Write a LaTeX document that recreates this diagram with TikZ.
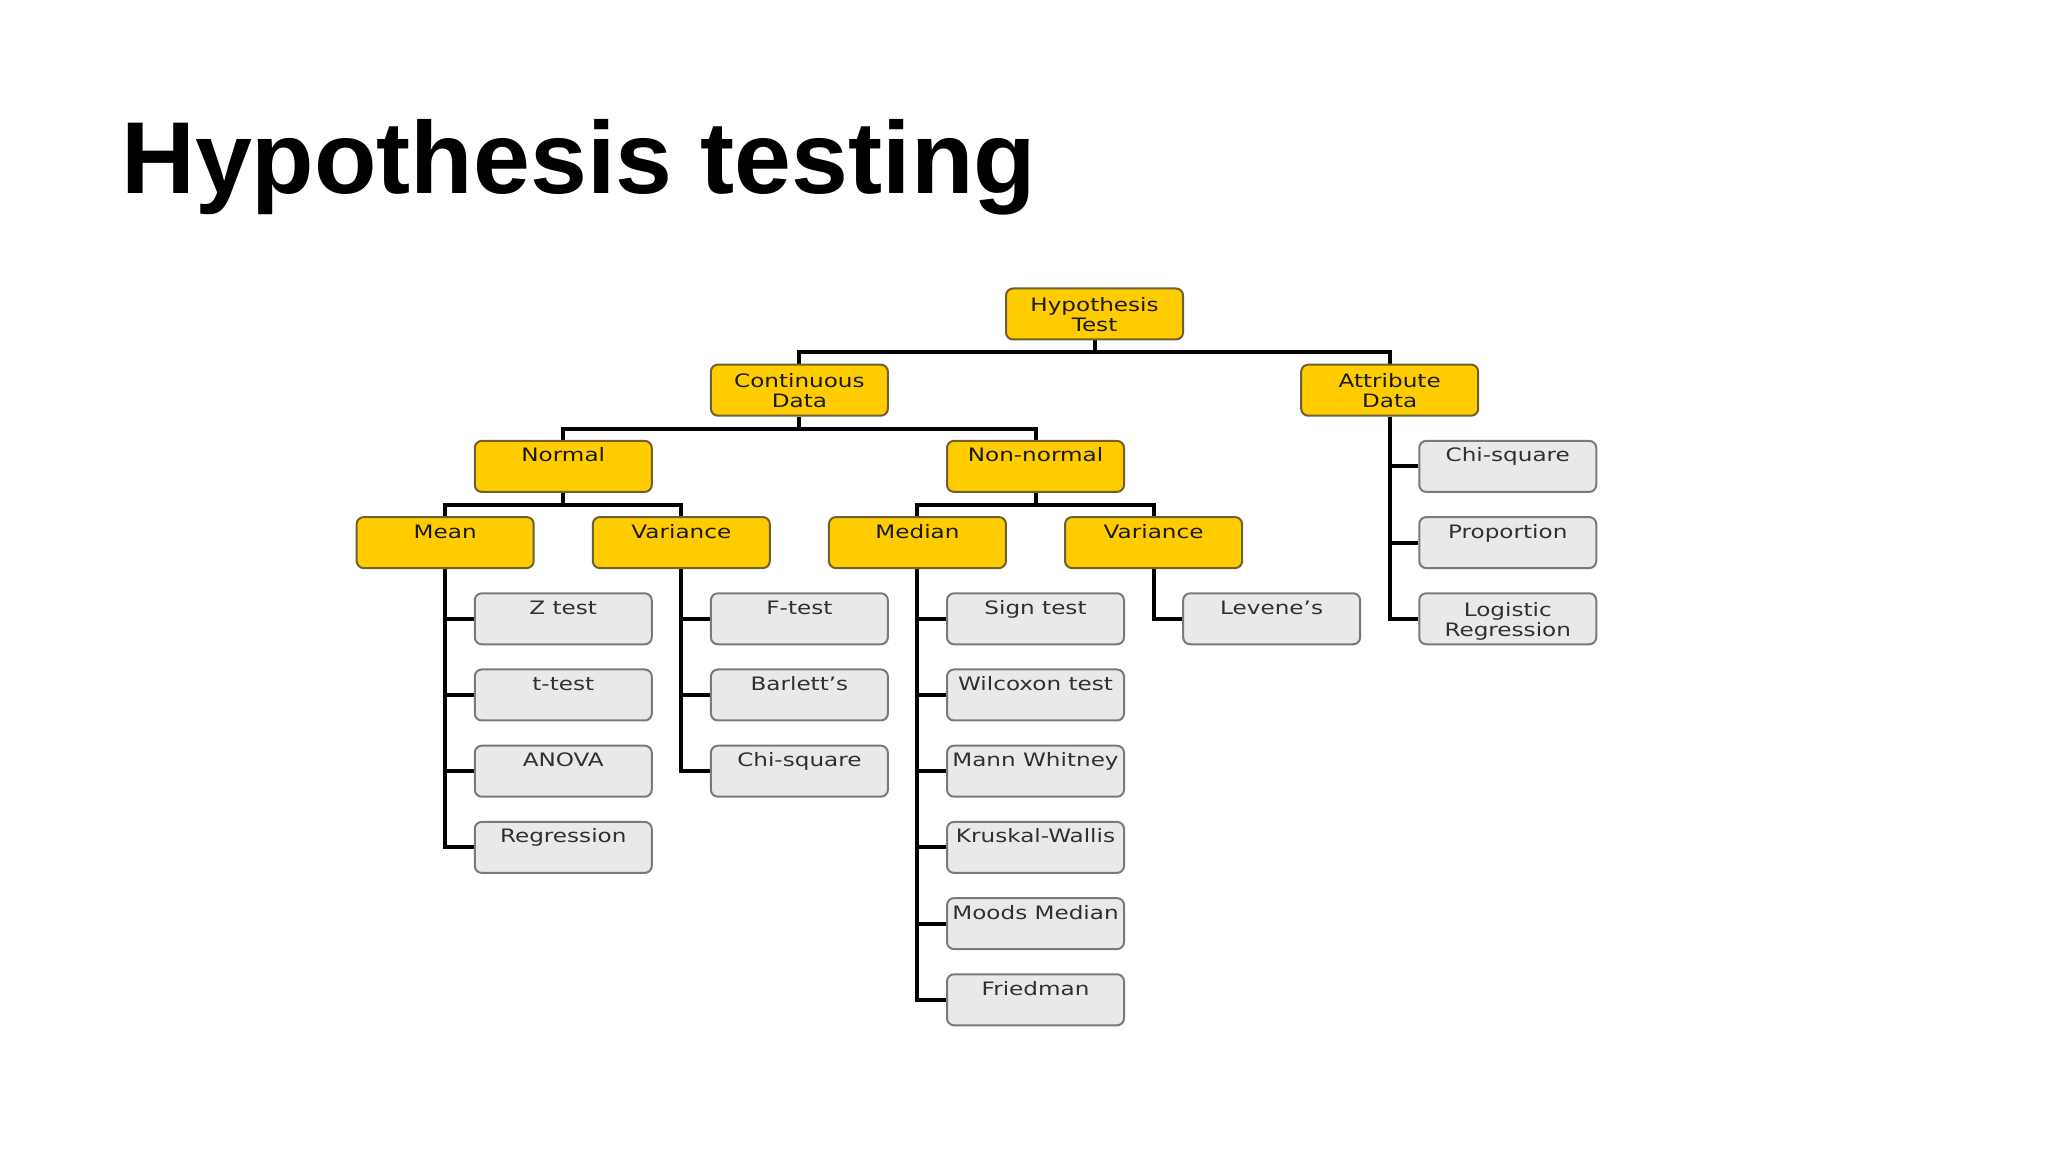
\documentclass[tikz,border=0pt]{standalone}
\usepackage{fontspec}
\newfontfamily\titlefont{Liberation Sans}
\newfontfamily\boxfont[FakeStretch=1.25]{DejaVu Sans}
\usetikzlibrary{calc}
\definecolor{gold}{HTML}{FFCC00}
\definecolor{goldedge}{HTML}{6E6030}
\definecolor{leaffill}{HTML}{E9E9EB}
\definecolor{leafedge}{HTML}{7A7A7A}
\definecolor{ink}{HTML}{1A1A10}
\definecolor{leafink}{HTML}{303030}
\pgfdeclarelayer{bg}
\pgfsetlayers{bg,main}
\tikzset{
  box/.style={rounded corners=0.7mm, line width=0.2mm, minimum width=17.7mm, minimum height=5.1mm, inner sep=0pt},
  Ybx/.style={box, fill=gold, draw=goldedge},
  Gbx/.style={box, fill=leaffill, draw=leafedge},
  lab/.style={font=\boxfont\fontsize{5.26pt}{5.69pt}\selectfont, inner sep=0pt},
  Ylab/.style={lab, text=ink},
  Glab/.style={lab, text=leafink},
  wire/.style={line width=0.4mm, draw=black},
  titletext/.style={anchor=base west, inner sep=0pt, font=\titlefont\bfseries\fontsize{29.1pt}{35pt}\selectfont},
}
% name, kind (Y/G), column, row, text
\newcommand\mkbox[5]{%
  \node[#2bx] (#1) at ({356.7+118.06*(#3)+88.5},{288.5+76.2*(#4)+25.5}) {};
  \node[#2lab, anchor=base] (#1-t) at ($(#1.north)+(0,22)$) {#5};}
\newcommand\mkboxii[5]{%
  \node[#2bx] (#1) at ({356.7+118.06*(#3)+88.5},{288.5+76.2*(#4)+25.5}) {};
  \node[#2lab, anchor=north, align=center] (#1-t) at ($(#1.north)+(0,9)$) {#5};}
\begin{document}
\begin{tikzpicture}[x=0.1mm, y=-0.1mm]
\begin{pgfonlayer}{bg}
\fill[white] (0,0) rectangle (2048,1152);
\end{pgfonlayer}
\useasboundingbox (0,0) rectangle (2048,1152);

\node[titletext] (title) at (120.5,194) {Hypothesis testing};

% category boxes
\mkboxii{hyp}{Y}{5.5}{0}{Hypothesis\\Test}
\mkboxii{cont}{Y}{3}{1}{Continuous\\Data}
\mkboxii{attr}{Y}{8}{1}{Attribute\\Data}
\mkbox{norm}{Y}{1}{2}{Normal}
\mkbox{nonn}{Y}{5}{2}{Non-normal}
\mkbox{mean}{Y}{0}{3}{Mean}
\mkbox{varA}{Y}{2}{3}{Variance}
\mkbox{med}{Y}{4}{3}{Median}
\mkbox{varB}{Y}{6}{3}{Variance}

% test boxes
\mkbox{z}{G}{1}{4}{Z test}
\mkbox{tt}{G}{1}{5}{t-test}
\mkbox{anova}{G}{1}{6}{ANOVA}
\mkbox{reg}{G}{1}{7}{Regression}
\mkbox{ft}{G}{3}{4}{F-test}
\mkbox{bar}{G}{3}{5}{Barlett’s}
\mkbox{chiA}{G}{3}{6}{Chi-square}
\mkbox{sign}{G}{5}{4}{Sign test}
\mkbox{wil}{G}{5}{5}{Wilcoxon test}
\mkbox{mann}{G}{5}{6}{Mann Whitney}
\mkbox{krus}{G}{5}{7}{Kruskal-Wallis}
\mkbox{mood}{G}{5}{8}{Moods Median}
\mkbox{fried}{G}{5}{9}{Friedman}
\mkbox{lev}{G}{7}{4}{Levene’s}
\mkbox{chiB}{G}{9}{2}{Chi-square}
\mkbox{prop}{G}{9}{3}{Proportion}
\mkboxii{logi}{G}{9}{4}{Logistic\\Regression}

\begin{pgfonlayer}{bg}
  \draw[wire] (hyp.south) -- ++(0,12) -| (cont.north);
  \draw[wire] (hyp.south) -- ++(0,12) -| (attr.north);
  \draw[wire] (cont.south) -- ++(0,12) -| (norm.north);
  \draw[wire] (cont.south) -- ++(0,12) -| (nonn.north);
  \draw[wire] (norm.south) -- ++(0,12) -| (mean.north);
  \draw[wire] (norm.south) -- ++(0,12) -| (varA.north);
  \draw[wire] (nonn.south) -- ++(0,12) -| (med.north);
  \draw[wire] (nonn.south) -- ++(0,12) -| (varB.north);
  \foreach \c in {z,tt,anova,reg} \draw[wire] (mean.south) |- (\c.west);
  \foreach \c in {ft,bar,chiA} \draw[wire] (varA.south) |- (\c.west);
  \foreach \c in {sign,wil,mann,krus,mood,fried} \draw[wire] (med.south) |- (\c.west);
  \draw[wire] (varB.south) |- (lev.west);
  \foreach \c in {chiB,prop,logi} \draw[wire] (attr.south) |- (\c.west);
\end{pgfonlayer}
\end{tikzpicture}
\end{document}
